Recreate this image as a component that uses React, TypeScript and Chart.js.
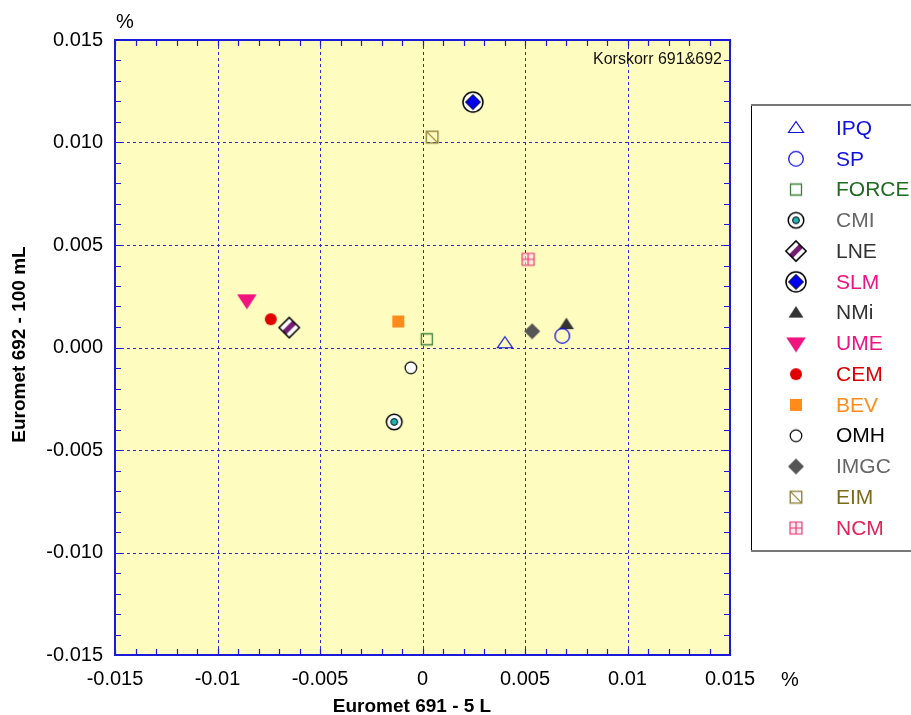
import React, { useEffect, useRef } from 'react';
import { Chart, registerables } from 'chart.js';

Chart.register(...registerables);

// ---- data ----
const labs = ['IPQ', 'SP', 'FORCE', 'CMI', 'LNE', 'SLM', 'NMi', 'UME', 'CEM', 'BEV', 'OMH', 'IMGC', 'EIM', 'NCM'];
const xVals = [0.00402, 0.00682, 0.00021, -0.00138, -0.0065, 0.00246, 0.00702, -0.00857, -0.0074, -0.00118, -0.00057, 0.00535, 0.00047, 0.00515];
const yVals = [0.00021, 0.00057, 0.0004, -0.00363, 0.00097, 0.01197, 0.00114, 0.0023, 0.00138, 0.00127, -0.00099, 0.00079, 0.01026, 0.0043];
const labColors = ['#1010e0', '#1010e0', '#1f6b1f', '#666666', '#333333', '#ee1480', '#333333', '#ee1480', '#dd0000', '#ff8c1a', '#000000', '#666666', '#7a6a1a', '#e0245a'];
const tickValues = [-0.015, -0.01, -0.005, 0, 0.005, 0.01, 0.015];
const xTickLabels = ['-0.015', '-0.01', '-0.005', '0', '0.005', '0.01', '0.015'];
const yTickLabels = ['-0.015', '-0.010', '-0.005', '0.000', '0.005', '0.010', '0.015'];
const minorStep = 0.001;
const xTitle = 'Euromet 691 - 5 L';
const yTitle = 'Euromet 692 - 100 mL';
const noteText = 'Korskorr 691&692';
const unitText = '%';

const FONT = 'Arial, "Liberation Sans", sans-serif';

type DrawFn = (c: CanvasRenderingContext2D) => void;

function mk(draw: DrawFn, s = 26): HTMLCanvasElement {
  const cv = document.createElement('canvas');
  cv.width = s;
  cv.height = s;
  const c = cv.getContext('2d')!;
  c.translate(s / 2, s / 2);
  draw(c);
  return cv;
}

function circle(c: CanvasRenderingContext2D, r: number, fill: string | null, stroke: string | null, lw = 1.2) {
  c.beginPath();
  c.arc(0, 0, r, 0, Math.PI * 2);
  if (fill) { c.fillStyle = fill; c.fill(); }
  if (stroke) { c.lineWidth = lw; c.strokeStyle = stroke; c.stroke(); }
}
function poly(c: CanvasRenderingContext2D, pts: number[][], fill: string | null, stroke: string | null, lw = 1.2) {
  c.beginPath();
  pts.forEach((p, i) => (i ? c.lineTo(p[0], p[1]) : c.moveTo(p[0], p[1])));
  c.closePath();
  if (fill) { c.fillStyle = fill; c.fill(); }
  if (stroke) { c.lineWidth = lw; c.strokeStyle = stroke; c.stroke(); }
}

const markerDraw: Record<string, DrawFn> = {
  IPQ: (c) => poly(c, [[0, -6.5], [7.5, 4.5], [-7.5, 4.5]], null, '#1010e0', 1.2),
  SP: (c) => circle(c, 7.3, null, '#1010e0', 1.3),
  FORCE: (c) => poly(c, [[-5.5, -5.5], [5.5, -5.5], [5.5, 5.5], [-5.5, 5.5]], null, '#3a7f3a', 1.3),
  CMI: (c) => { circle(c, 7.8, '#ffffff', '#000000', 1.5); circle(c, 3.4, '#22b5b5', '#000000', 1); },
  LNE: (c) => {
    c.rotate(Math.PI / 4);
    const h = 7.2;
    poly(c, [[-h, -h], [h, -h], [h, h], [-h, h]], '#ffffff', null);
    c.fillStyle = '#741c74';
    c.fillRect(-2.6, -h, 5.2, 2 * h);
    poly(c, [[-h, -h], [h, -h], [h, h], [-h, h]], null, '#000000', 1.5);
  },
  SLM: (c) => { circle(c, 10, '#ffffff', '#000000', 1.5); poly(c, [[0, -7.5], [7.5, 0], [0, 7.5], [-7.5, 0]], '#0000f0', '#000000', 1); },
  NMi: (c) => poly(c, [[0, -6.5], [7.5, 5], [-7.5, 5]], '#333333', null),
  UME: (c) => poly(c, [[-9.8, -6], [9.8, -6], [0, 9]], '#f0147f', null),
  CEM: (c) => circle(c, 6, '#e00000', null),
  BEV: (c) => poly(c, [[-6, -6], [6, -6], [6, 6], [-6, 6]], '#ff8c1a', null),
  OMH: (c) => circle(c, 5.8, '#ffffff', '#000000', 1.2),
  IMGC: (c) => poly(c, [[0, -8], [8, 0], [0, 8], [-8, 0]], '#555555', null),
  EIM: (c) => {
    poly(c, [[-5.8, -5.8], [5.8, -5.8], [5.8, 5.8], [-5.8, 5.8]], null, '#8a7a30', 1.3);
    c.beginPath(); c.moveTo(-5.8, -5.8); c.lineTo(5.8, 5.8); c.lineWidth = 1.1; c.strokeStyle = '#8a7a30'; c.stroke();
  },
  NCM: (c) => {
    poly(c, [[-6, -6], [6, -6], [6, 6], [-6, 6]], 'rgba(255,220,230,0.6)', '#e8306a', 1.1);
    c.beginPath(); c.moveTo(0, -6); c.lineTo(0, 6); c.moveTo(-6, 0); c.lineTo(6, 0);
    c.lineWidth = 1.1; c.strokeStyle = '#e8306a'; c.stroke();
  },
};

const decoPlugin = {
  id: 'deco',
  beforeDraw(chart: any) {
    const { ctx, chartArea: a, scales } = chart;
    const xs = scales.x, ys = scales.y;
    ctx.save();
    ctx.fillStyle = '#ffffff';
    ctx.fillRect(0, 0, chart.width, chart.height);
    ctx.fillStyle = '#fffcc0';
    ctx.fillRect(a.left, a.top, a.right - a.left, a.bottom - a.top);
    ctx.strokeStyle = '#2a2ad8';
    ctx.lineWidth = 1;
    ctx.setLineDash([3, 3]);
    tickValues.forEach((v) => {
      const px = Math.round(xs.getPixelForValue(v)) + 0.5;
      const py = Math.round(ys.getPixelForValue(v)) + 0.5;
      ctx.beginPath(); ctx.moveTo(px, a.top); ctx.lineTo(px, a.bottom); ctx.stroke();
      ctx.beginPath(); ctx.moveTo(a.left, py); ctx.lineTo(a.right, py); ctx.stroke();
    });
    ctx.restore();
  },
  afterDatasetsDraw(chart: any) {
    const { ctx, chartArea: a, scales } = chart;
    const xs = scales.x, ys = scales.y;
    ctx.save();
    ctx.strokeStyle = '#1a1ad8';
    ctx.lineWidth = 1.2;
    const tl = 6;
    const n = Math.round((tickValues[tickValues.length - 1] - tickValues[0]) / minorStep);
    for (let i = 0; i <= n; i++) {
      const v = tickValues[0] + i * minorStep;
      const px = Math.round(xs.getPixelForValue(v)) + 0.5;
      const py = Math.round(ys.getPixelForValue(v)) + 0.5;
      ctx.beginPath();
      ctx.moveTo(px, a.bottom); ctx.lineTo(px, a.bottom - tl);
      ctx.moveTo(px, a.top); ctx.lineTo(px, a.top + tl);
      ctx.moveTo(a.left, py); ctx.lineTo(a.left + tl, py);
      ctx.moveTo(a.right, py); ctx.lineTo(a.right - tl, py);
      ctx.stroke();
    }
    ctx.lineWidth = 2;
    ctx.strokeStyle = '#1a1ad8';
    ctx.strokeRect(a.left, a.top, a.right - a.left, a.bottom - a.top);
    ctx.restore();
  },
  afterDraw(chart: any) {
    const { ctx, chartArea: a } = chart;
    ctx.save();
    // note text
    ctx.fillStyle = '#111111';
    ctx.font = `16px ${FONT}`;
    ctx.textAlign = 'right';
    ctx.textBaseline = 'middle';
    ctx.fillText(noteText, a.right - 8, a.top + 20);
    // unit labels
    ctx.font = `20px ${FONT}`;
    ctx.textAlign = 'center';
    ctx.fillStyle = '#000000';
    ctx.fillText(unitText, a.left + 10, a.top - 18);
    ctx.fillText(unitText, a.right + 60, a.bottom + 25);
    // axis titles
    ctx.font = `bold 19px ${FONT}`;
    ctx.fillText(xTitle, a.left + 297, a.bottom + 52);
    ctx.save();
    ctx.translate(20, (a.top + a.bottom) / 2 - 3);
    ctx.rotate(-Math.PI / 2);
    ctx.fillText(yTitle, 0, 0);
    ctx.restore();
    // legend box
    const bx = 751, by = 105, bb = 551;
    ctx.strokeStyle = '#000000';
    ctx.lineWidth = 1;
    ctx.beginPath(); ctx.moveTo(bx + 0.5, by); ctx.lineTo(bx + 0.5, bb); ctx.stroke();
    ctx.strokeStyle = '#777777';
    ctx.lineWidth = 2;
    ctx.beginPath(); ctx.moveTo(bx, by); ctx.lineTo(chart.width + 2, by); ctx.stroke();
    ctx.beginPath(); ctx.moveTo(bx, bb); ctx.lineTo(chart.width + 2, bb); ctx.stroke();
    ctx.font = `21px ${FONT}`;
    ctx.textAlign = 'left';
    ctx.textBaseline = 'middle';
    chart.data.datasets.forEach((ds: any, i: number) => {
      const yy = 128 + i * 30.77;
      const img = ds.pointStyle as HTMLCanvasElement;
      ctx.drawImage(img, 796 - img.width / 2, yy - img.height / 2);
      ctx.fillStyle = labColors[i];
      ctx.fillText(ds.label, 836, yy + 1);
    });
    ctx.restore();
  },
};

export default function App() {
  const ref = useRef<HTMLCanvasElement>(null);
  useEffect(() => {
    if (!ref.current) return;
    const datasets = labs.map((lab, i) => ({
      label: lab,
      data: [{ x: xVals[i], y: yVals[i] }],
      pointStyle: mk(markerDraw[lab]) as any,
      pointRadius: 10,
      backgroundColor: labColors[i],
      borderColor: labColors[i],
    }));
    const setTicks = (s: any) => { s.ticks = tickValues.map((v) => ({ value: v })); };
    const chart = new Chart(ref.current, {
      type: 'scatter',
      data: { datasets },
      options: {
        animation: false,
        responsive: false,
        events: [],
        layout: { padding: { top: 40, right: 181, left: 0, bottom: 0 } },
        plugins: { legend: { display: false }, tooltip: { enabled: false } },
        scales: {
          x: {
            type: 'linear', min: -0.015, max: 0.015,
            afterBuildTicks: setTicks,
            afterFit: (s: any) => { s.height = 60; },
            grid: { display: false, drawTicks: false },
            border: { display: false },
            ticks: {
              callback: (_v: any, i: number) => xTickLabels[i],
              font: { size: 20, family: FONT }, color: '#000000', padding: 12,
              maxRotation: 0, autoSkip: false,
            },
          },
          y: {
            type: 'linear', min: -0.015, max: 0.015,
            afterBuildTicks: setTicks,
            afterFit: (s: any) => { s.width = 115; },
            grid: { display: false, drawTicks: false },
            border: { display: false },
            ticks: {
              callback: (_v: any, i: number) => yTickLabels[i],
              font: { size: 20, family: FONT }, color: '#000000', padding: 12,
              autoSkip: false,
            },
          },
        },
      },
      plugins: [decoPlugin],
    } as any);
    return () => chart.destroy();
  }, []);
  return (
    <div style={{ position: 'absolute', left: 0, top: 0, width: 911, height: 715 }}>
      <canvas ref={ref} width={911} height={715} style={{ display: 'block' }} />
    </div>
  );
}
